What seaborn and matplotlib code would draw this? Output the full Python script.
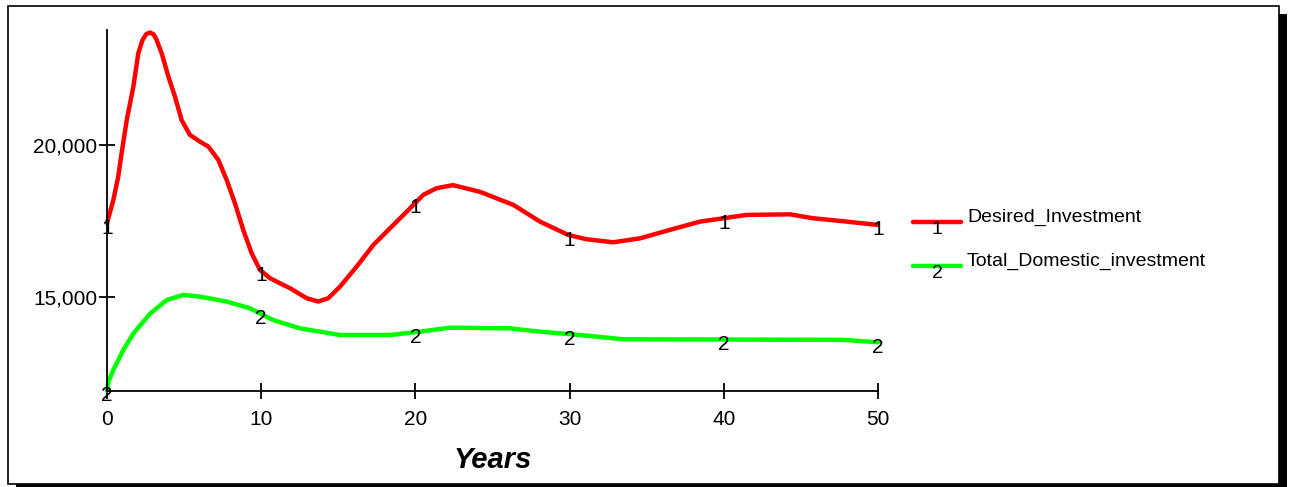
import numpy as np
import pandas as pd
import matplotlib
matplotlib.use("Agg")
import matplotlib.pyplot as plt
from matplotlib.patches import Rectangle
from matplotlib.lines import Line2D
from matplotlib.ticker import FuncFormatter
import seaborn as sns

# values
years_desired = [0, 0.41, 0.73, 0.95, 1.28, 1.71, 2.03, 2.30, 2.55, 2.79, 3.02, 3.20, 3.55,
                 3.98, 4.41, 4.84, 5.38, 6.03, 6.57, 7.22, 7.76, 8.30, 8.84, 9.38, 9.92,
                 10.57, 11.22, 11.87, 12.95, 13.70, 14.35, 15.11, 16.19, 17.27, 18.35,
                 19.44, 20.51, 21.38, 22.44, 24.19, 26.35, 28.08, 29.92, 31.1, 32.83,
                 34.57, 36.73, 38.46, 39.97, 41.48, 44.29, 45.8, 47.97, 50]
desired_investment = [17430, 18190, 18960, 19740, 20820, 21920, 23020, 23450, 23650, 23700,
                      23640, 23480, 23010, 22250, 21590, 20820, 20330, 20110, 19950, 19510,
                      18850, 18080, 17200, 16440, 15890, 15620, 15450, 15290, 14960, 14850,
                      14960, 15340, 16000, 16710, 17260, 17810, 18360, 18580, 18680, 18460,
                      18030, 17480, 17040, 16900, 16800, 16930, 17240, 17480, 17590, 17700,
                      17720, 17590, 17480, 17370]

years_total = [0, 0.12, 0.41, 1.06, 1.71, 2.79, 3.87, 4.95, 6.03, 7.76, 9.27, 10.78, 12.52,
               15.11, 18.35, 20.3, 22.24, 26.1, 28.08, 30.67, 33.48, 47.75, 50]
total_domestic = [11930, 12250, 12600, 13260, 13800, 14450, 14900, 15070, 15010, 14850, 14630,
                  14240, 13970, 13750, 13750, 13860, 13990, 13970, 13860, 13750, 13610,
                  13590, 13510]

series_names = ["Desired_Investment", "Total_Domestic_investment"]
series_colors = ["#ff0000", "#00ff00"]
marker_years = [0, 10, 20, 30, 40, 50]
x_ticks = [0, 10, 20, 30, 40, 50]
y_ticks = [15000, 20000]

sns.set_style("white")
plt.rcParams['font.family'] = ['Liberation Sans', 'DejaVu Sans']
plt.rcParams['text.color'] = 'black'

W, H = 1291, 487
fig = plt.figure(figsize=(W / 100, H / 100), dpi=100)

# outer frame with drop shadow (pixel coords -> figure fraction)
def fx(px):
    return px / W

def fy(py):
    return 1 - py / H

fig.add_artist(Rectangle((fx(16), fy(492)), fx(1271), 478 / H, transform=fig.transFigure,
                         facecolor="black", edgecolor="none", zorder=-3))
fig.add_artist(Rectangle((fx(8), fy(484)), fx(1271), 478 / H, transform=fig.transFigure,
                         facecolor="white", edgecolor="black", linewidth=1.2, zorder=-2))

ax = fig.add_axes([fx(107), fy(391), fx(878 - 107), (391 - 30) / H])
ax.set_facecolor("none")

df_desired = pd.DataFrame({"Years": years_desired, "value": desired_investment})
df_total = pd.DataFrame({"Years": years_total, "value": total_domestic})
sns.lineplot(data=df_desired, x="Years", y="value", color=series_colors[0], linewidth=3.2,
             ax=ax, clip_on=False)
sns.lineplot(data=df_total, x="Years", y="value", color=series_colors[1], linewidth=3.2,
             ax=ax, clip_on=False)

# numbered markers along the curves
for yr in marker_years:
    v1 = np.interp(yr, years_desired, desired_investment)
    v2 = np.interp(yr, years_total, total_domestic)
    ax.annotate("1", (yr, v1), xytext=(0, -5), textcoords="offset pixels", color="black",
                ha="center", va="center", fontsize=15, annotation_clip=False)
    ax.annotate("2", (yr, v2), xytext=(0, -5), textcoords="offset pixels", color="black",
                ha="center", va="center", fontsize=15, annotation_clip=False)

ax.set_xlim(0, 50)
ax.set_ylim(11908, 23783)
ax.set_xticks(x_ticks)
ax.set_yticks(y_ticks)
ax.yaxis.set_major_formatter(FuncFormatter(lambda v, p: f"{int(v):,}"))
ax.tick_params(axis="both", direction="inout", length=12, width=1.3, labelsize=15,
               colors="black", labelcolor="black", bottom=True, left=True)
ax.tick_params(axis="y", pad=1)
ax.tick_params(axis="x", pad=8)
for s in ["top", "right"]:
    ax.spines[s].set_visible(False)
for s in ["left", "bottom"]:
    ax.spines[s].set_color("black")
    ax.spines[s].set_linewidth(1.3)
ax.set_ylabel("")
ax.set_xlabel("Years", fontsize=21, fontweight="bold", fontstyle="italic", labelpad=12,
              color="black")

# legend drawn by hand
legend_rows = [222, 266]
for name, color, row, num in zip(series_names, series_colors, legend_rows, ["1", "2"]):
    fig.add_artist(Line2D([fx(913), fx(961)], [fy(row), fy(row)], color=color,
                          linewidth=3.2, transform=fig.transFigure))
    fig.text(fx(967), fy(row), name, fontsize=14, ha="left", va="baseline", color="black")
    fig.text(fx(937), fy(row + 8), num, fontsize=14, ha="center", va="center", color="black")

fig.savefig("out.png", dpi=100)
